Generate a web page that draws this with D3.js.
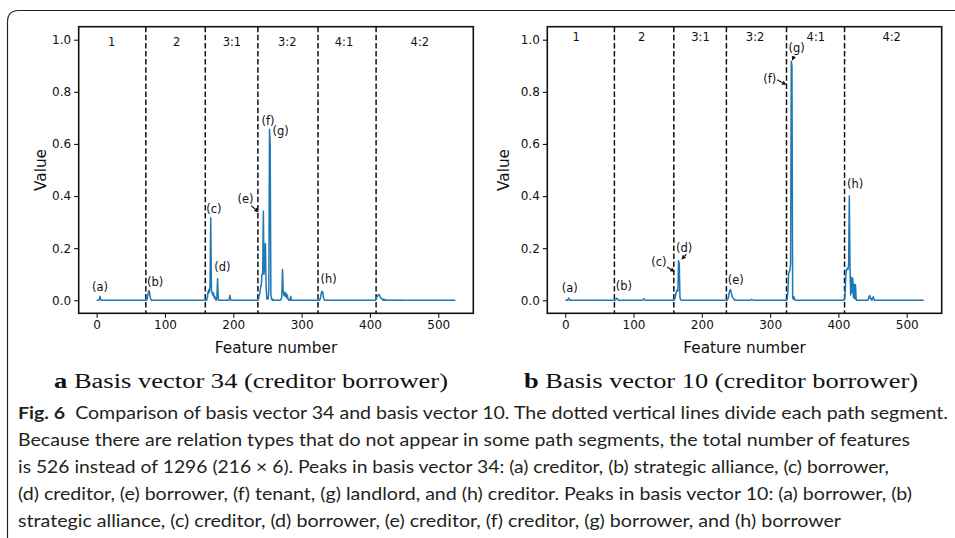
<!DOCTYPE html>
<html>
<head>
<meta charset="utf-8">
<script src="https://cdn.jsdelivr.net/npm/d3@7"></script>
<style>
  html, body { margin: 0; padding: 0; background: #fff; }
  svg { display: block; }
</style>
</head>
<body>
<svg id="chart" width="955" height="538"></svg>
<script>
// ---------------- DATA ----------------
const featureCount = 526;                       // features 0..525
const segmentBounds = [72, 159, 236, 324, 409]; // dashed dividers
const segmentNames = ["1", "2", "3:1", "3:2", "4:1", "4:2"];
const segLabelXA = [22, 117, 198, 279, 362, 473];
const segLabelYA = 0.99;
const segLabelXB = [16, 112, 198, 278, 367, 478];
const segLabelYB = 1.01;

const xTicks = [0, 100, 200, 300, 400, 500];
const yTicks = [0.0, 0.2, 0.4, 0.6, 0.8, 1.0];

// Basis vector 34: non-zero features (all other features are 0)
const featA = [4, 5, 6,
  74, 75, 76, 77, 78, 79,
  160, 162, 163, 164, 165, 166, 167, 168, 169, 170, 171, 172, 173, 174, 176, 177, 178,
  194, 195, 196,
  237, 238, 239, 240, 241, 242, 243, 244, 245, 246, 247, 248, 249, 250, 251, 252, 253, 254, 255, 256, 258,
  270, 271, 272, 273, 274, 275, 276, 277, 278, 279, 280, 282, 284, 285,
  327, 328, 329, 330, 331, 332, 333,
  409, 410, 411, 412, 413, 414, 415, 416, 417, 418, 420, 422, 425, 430, 435, 440, 445];
const valA = [0.004, 0.015, 0.003,
  0.005, 0.02, 0.035, 0.036, 0.02, 0.005,
  0.003, 0.01, 0.03, 0.04, 0.03, 0.06, 0.317, 0.04, 0.03, 0.02, 0.028, 0.01, 0.015, 0.004, 0.01, 0.083, 0.004,
  0.004, 0.019, 0.003,
  0.005, 0.02, 0.03, 0.05, 0.06, 0.1, 0.1, 0.342, 0.1, 0.15, 0.218, 0.06, 0.005, 0.01, 0.005, 0.04, 0.656, 0.6, 0.02, 0.005, 0.004,
  0.005, 0.01, 0.118, 0.04, 0.02, 0.03, 0.015, 0.028, 0.01, 0.02, 0.005, 0.003, 0.015, 0.003,
  0.004, 0.015, 0.03, 0.034, 0.03, 0.01, 0.003,
  0.003, 0.012, 0.015, 0.02, 0.022, 0.02, 0.012, 0.008, 0.006, 0.005, 0.004, 0.003, 0.002, 0.002, 0.001, 0.002, 0.001];

// Basis vector 10: non-zero features
const featB = [4, 5, 6,
  74, 75, 76, 77,
  114, 115, 116,
  160, 161, 162, 163, 164, 165, 166, 167, 168, 169,
  238, 239, 240, 241, 242, 243, 244, 245, 246, 247, 249,
  272, 273, 274,
  325, 326, 327, 328, 329, 330, 331, 332, 333, 334, 335, 336,
  409, 410, 411, 412, 413, 414, 415, 416, 417, 418, 419, 420, 421, 422, 423, 424, 425, 426,
  444, 445, 446, 447, 448, 450, 451, 452];
const valB = [0.003, 0.009, 0.004,
  0.002, 0.008, 0.007, 0.002,
  0.002, 0.006, 0.002,
  0.003, 0.01, 0.025, 0.035, 0.04, 0.035, 0.152, 0.14, 0.01, 0.003,
  0.003, 0.012, 0.028, 0.038, 0.041, 0.03, 0.02, 0.012, 0.008, 0.005, 0.002,
  0.002, 0.004, 0.002,
  0.004, 0.03, 0.1, 0.11, 0.115, 0.14, 0.917, 0.9, 0.01, 0.004, 0.013, 0.003,
  0.004, 0.03, 0.1, 0.12, 0.122, 0.118, 0.14, 0.40, 0.12, 0.02, 0.088, 0.03, 0.085, 0.01, 0.062, 0.005, 0.06, 0.004,
  0.004, 0.015, 0.018, 0.008, 0.003, 0.01, 0.013, 0.004];

// Peak annotations (label centre in data coordinates)
const annLabels = ["(a)", "(b)", "(c)", "(d)", "(e)", "(f)", "(g)", "(h)"];
const annXA = [5, 85.5, 171.5, 184, 218, 250.7, 269.2, 339.6];
const annYA = [0.051, 0.070, 0.35, 0.128, 0.388, 0.688, 0.651, 0.081];
const annXB = [6.7, 86, 137, 174, 249.6, 299.6, 338.7, 424.6];
const annYB = [0.049, 0.055, 0.146, 0.2, 0.076, 0.85, 0.97, 0.447];
// arrows: [label, fromX, fromY, toX, toY]
const arrowsA = [["(e)", 226.2, 0.363, 237.2, 0.338]];
const arrowsB = [["(c)", 149, 0.128, 160.3, 0.109],
                 ["(d)", 177.4, 0.177, 170.1, 0.156],
                 ["(f)", 310.3, 0.846, 324, 0.827],
                 ["(g)", 335.2, 0.938, 332.2, 0.919]];

const subTitles = [["a", " Basis vector 34 (creditor borrower)"],
                   ["b", " Basis vector 10 (creditor borrower)"]];
const captionBold = "Fig. 6";
const captionLines = [
  "  Comparison of basis vector 34 and basis vector 10. The dotted vertical lines divide each path segment.",
  "Because there are relation types that do not appear in some path segments, the total number of features",
  "is 526 instead of 1296 (216 \u00d7 6). Peaks in basis vector 34: (a) creditor, (b) strategic alliance, (c) borrower,",
  "(d) creditor, (e) borrower, (f) tenant, (g) landlord, and (h) creditor. Peaks in basis vector 10: (a) borrower, (b)",
  "strategic alliance, (c) creditor, (d) borrower, (e) creditor, (f) creditor, (g) borrower, and (h) borrower"
];

// ---------------- DRAW ----------------
const svg = d3.select("#chart");
const FONT = "DejaVu Sans, sans-serif";

// outer rounded frame (figure box)
svg.append("path")
  .attr("d", "M7.5,540 L7.5,22 Q7.5,10.5 19,10.5 L960,10.5")
  .attr("fill", "none").attr("stroke", "#222").attr("stroke-width", 1.2);

function buildSeries(feats, vals) {
  const m = new Map(feats.map((f, i) => [f, vals[i]]));
  return d3.range(featureCount).map(i => ({ x: i, v: m.has(i) ? m.get(i) : 0 }));
}

function panel(cfg) {
  const { left, right, top, bottom } = cfg;
  const x = d3.scaleLinear().domain([-26.25, 551.25]).range([left, right]);
  const y = d3.scaleLinear().domain([-0.05, 1.05]).range([bottom, top]);
  const g = svg.append("g");

  // axes
  const xa = g.append("g").attr("transform", `translate(0,${bottom})`)
    .call(d3.axisBottom(x).tickValues(xTicks).tickFormat(d3.format("d")).tickSize(4.5).tickPadding(3));
  const ya = g.append("g").attr("transform", `translate(${left},0)`)
    .call(d3.axisLeft(y).tickValues(yTicks).tickFormat(d3.format(".1f")).tickSize(4.5).tickPadding(3));
  [xa, ya].forEach(a => {
    a.select(".domain").remove();
    a.selectAll(".tick line").attr("stroke", "#111").attr("stroke-width", 1.1);
    a.selectAll(".tick text").attr("font-family", FONT).attr("font-size", 12).attr("fill", "#111");
  });

  // dashed dividers
  g.selectAll(".div").data(segmentBounds).enter().append("line")
    .attr("x1", d => x(d)).attr("x2", d => x(d))
    .attr("y1", top).attr("y2", bottom)
    .attr("stroke", "#111").attr("stroke-width", 1.5)
    .attr("stroke-dasharray", "5.5,2.6");

  // segment labels
  g.selectAll(".seg").data(segmentNames).enter().append("text")
    .attr("x", (d, i) => x(cfg.segX[i])).attr("y", y(cfg.segY))
    .attr("text-anchor", "middle").attr("dominant-baseline", "central")
    .attr("font-family", FONT).attr("font-size", 11.5).attr("fill", "#111")
    .text(d => d);

  // data line
  const series = buildSeries(cfg.feats, cfg.vals);
  g.append("path").datum(series)
    .attr("fill", "none").attr("stroke", "#1f77b4").attr("stroke-width", 1.5)
    .attr("stroke-linejoin", "round")
    .attr("d", d3.line().x(d => x(d.x)).y(d => y(d.v)));

  // annotations
  g.selectAll(".ann").data(annLabels).enter().append("text")
    .attr("x", (d, i) => x(cfg.annX[i])).attr("y", (d, i) => y(cfg.annY[i]))
    .attr("text-anchor", "middle").attr("dominant-baseline", "central")
    .attr("font-family", FONT).attr("font-size", 11.5).attr("fill", "#111")
    .text(d => d);

  cfg.arrows.forEach(a => {
    const x1 = x(a[1]), y1 = y(a[2]), x2 = x(a[3]), y2 = y(a[4]);
    const ang = Math.atan2(y2 - y1, x2 - x1);
    const hl = 4.5, hw = 2.2;
    const bx = x2 - hl * Math.cos(ang), by = y2 - hl * Math.sin(ang);
    g.append("line").attr("x1", x1).attr("y1", y1).attr("x2", bx).attr("y2", by)
      .attr("stroke", "#111").attr("stroke-width", 1.1);
    g.append("path")
      .attr("d", `M${x2},${y2} L${bx - hw * Math.sin(ang)},${by + hw * Math.cos(ang)} L${bx + hw * Math.sin(ang)},${by - hw * Math.cos(ang)} Z`)
      .attr("fill", "#111");
  });

  // frame
  g.append("rect").attr("x", left).attr("y", top)
    .attr("width", right - left).attr("height", bottom - top)
    .attr("fill", "none").attr("stroke", "#111").attr("stroke-width", 1.6);

  // axis labels
  g.append("text").attr("x", (left + right) / 2).attr("y", 353)
    .attr("text-anchor", "middle").attr("font-family", FONT).attr("font-size", 15.3).attr("fill", "#111")
    .text("Feature number");
  g.append("text").attr("transform", `translate(${cfg.ylabX},${(top + bottom) / 2}) rotate(-90)`)
    .attr("text-anchor", "middle").attr("dominant-baseline", "central")
    .attr("font-family", FONT).attr("font-size", 15.3).attr("fill", "#111")
    .text("Value");

  // sub-caption
  const st = g.append("text").attr("x", cfg.subX).attr("y", 388)
    .attr("font-family", "Liberation Serif, DejaVu Serif, serif").attr("font-size", 20).attr("fill", "#111")
    .attr("textLength", 394).attr("lengthAdjust", "spacingAndGlyphs");
  st.append("tspan").attr("font-weight", "bold").text(cfg.sub[0]);
  st.append("tspan").text(cfg.sub[1]);
}

panel({ left: 78.7, right: 473.3, top: 26.7, bottom: 313.3, feats: featA, vals: valA,
  segX: segLabelXA, segY: segLabelYA, annX: annXA, annY: annYA, arrows: arrowsA,
  ylabX: 41, subX: 54, sub: subTitles[0] });
panel({ left: 547.3, right: 941.7, top: 26.7, bottom: 313.3, feats: featB, vals: valB,
  segX: segLabelXB, segY: segLabelYB, annX: annXB, annY: annYB, arrows: arrowsB,
  ylabX: 504.3, subX: 524, sub: subTitles[1] });

// caption
const capEnds = [948, 910, 889, 912, 841];
const capY = [418.5, 445.7, 472.9, 500.1, 527.3];
captionLines.forEach((line, i) => {
  const t = svg.append("text").attr("x", 18).attr("y", capY[i])
    .attr("font-family", "Lato, Open Sans, sans-serif").attr("font-size", 17).attr("fill", "#231f20")
    .attr("textLength", capEnds[i] - 18).attr("lengthAdjust", "spacingAndGlyphs");
  if (i === 0) t.append("tspan").attr("font-weight", "bold").text(captionBold);
  t.append("tspan").attr("xml:space", "preserve").text(line);
});
</script>
</body>
</html>
